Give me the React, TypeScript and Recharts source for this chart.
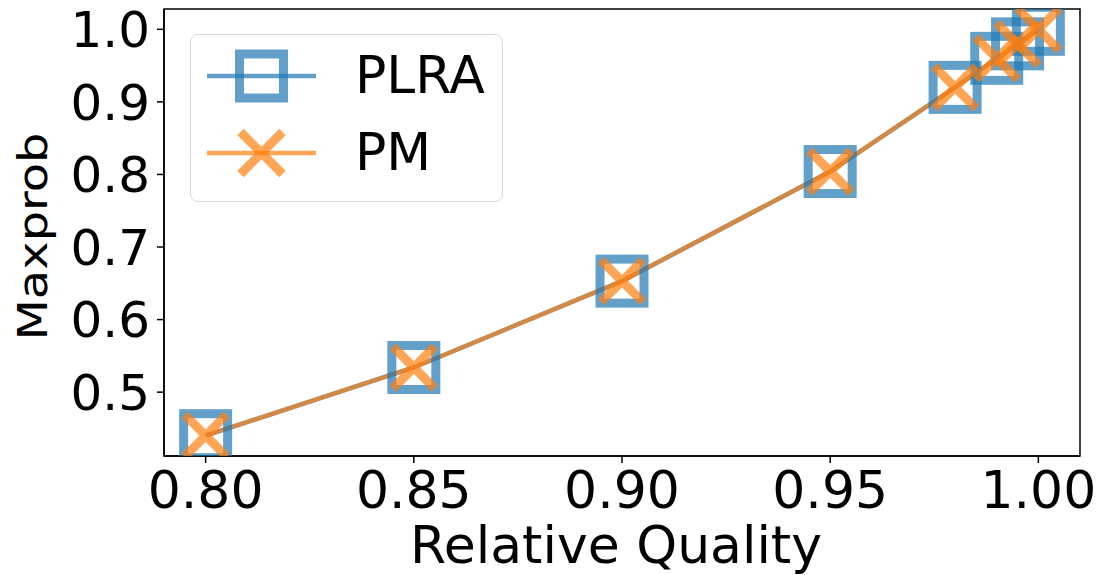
import React from 'react';
import { LineChart, Line, XAxis, YAxis, Legend, ReferenceArea } from 'recharts';

const FONT = "'DejaVu Sans', 'Liberation Sans', sans-serif";

const qualities = [0.8, 0.85, 0.9, 0.95, 0.98, 0.99, 0.995, 1.0];
const plraValues = [0.44, 0.534, 0.653, 0.804, 0.92, 0.96, 0.98, 1.0];
const pmValues = [0.44, 0.534, 0.653, 0.804, 0.92, 0.96, 0.98, 1.0];
const xTicks = [0.8, 0.85, 0.9, 0.95, 1.0];
const yTicks = [0.5, 0.6, 0.7, 0.8, 0.9, 1.0];
const seriesNames = ['PLRA', 'PM'];

const data = qualities.map((q, i) => ({ x: q, plra: plraValues[i], pm: pmValues[i] }));

const BLUE = '#1f77b4';
const ORANGE = '#ff7f0e';
const ALPHA = 0.7;
const SQ = 22;
const XH = 21;
const MW = 9;

const SquareDot = (props: any) => {
  const { cx, cy, index } = props;
  if (cx == null || cy == null) return <g key={`sq-${index}`} />;
  return (
    <rect
      key={`sq-${index}`}
      x={cx - SQ}
      y={cy - SQ}
      width={SQ * 2}
      height={SQ * 2}
      fill="none"
      stroke={BLUE}
      strokeOpacity={ALPHA}
      strokeWidth={MW}
    />
  );
};

const CrossDot = (props: any) => {
  const { cx, cy, index } = props;
  if (cx == null || cy == null) return <g key={`x-${index}`} />;
  return (
    <path
      key={`x-${index}`}
      d={`M${cx - XH},${cy - XH}L${cx + XH},${cy + XH}M${cx - XH},${cy + XH}L${cx + XH},${cy - XH}`}
      fill="none"
      stroke={ORANGE}
      strokeOpacity={ALPHA}
      strokeWidth={MW}
      strokeLinecap="butt"
    />
  );
};

const renderLegend = (props: any) => {
  const payload = props.payload || [];
  return (
    <div
      style={{
        width: 313,
        height: 168,
        boxSizing: 'border-box',
        border: '1.5px solid #d6d6d6',
        borderRadius: 8,
        background: 'rgba(255,255,255,0.8)',
      }}
    >
      <svg width={310} height={165} style={{ display: 'block' }}>
        {payload.map((entry: any, i: number) => {
          const y = 41 + i * 77;
          const cx = 70.5;
          const isSquare = entry.value === seriesNames[0];
          const color = isSquare ? BLUE : ORANGE;
          return (
            <g key={`lg-${i}`}>
              <line x1={16} x2={125} y1={y} y2={y} stroke={color} strokeOpacity={ALPHA} strokeWidth={4.5} />
              {isSquare ? (
                <rect x={cx - SQ} y={y - SQ} width={SQ * 2} height={SQ * 2} fill="none" stroke={color} strokeOpacity={ALPHA} strokeWidth={MW} />
              ) : (
                <path
                  d={`M${cx - XH},${y - XH}L${cx + XH},${y + XH}M${cx - XH},${y + XH}L${cx + XH},${y - XH}`}
                  fill="none"
                  stroke={color}
                  strokeOpacity={ALPHA}
                  strokeWidth={MW}
                />
              )}
              <text x={164} y={y + 17} fontSize={52} fontFamily={FONT} fill="#000">
                {entry.value}
              </text>
            </g>
          );
        })}
      </svg>
    </div>
  );
};

const XLabel = (props: any) => {
  const vb = props.viewBox || { x: 164, y: 456, width: 916, height: 119 };
  return (
    <text x={vb.x + vb.width / 2 - 6} y={563} textAnchor="middle" fontSize={52} fontFamily={FONT} fill="#000">
      Relative Quality
    </text>
  );
};

const YLabel = (props: any) => {
  const vb = props.viewBox || { x: 0, y: 9, width: 164, height: 447 };
  const cy = vb.y + vb.height / 2 + 4;
  return (
    <text
      x={0}
      y={0}
      transform={`translate(47, ${cy}) rotate(-90) scale(1.17, 1)`}
      textAnchor="middle"
      fontSize={41}
      fontFamily={FONT}
      fill="#000"
    >
      Maxprob
    </text>
  );
};

export default function App() {
  return (
    <div style={{ position: 'absolute', left: 0, top: 0, width: 1096, height: 575, background: '#fff' }}>
      <LineChart width={1096} height={575} data={data} margin={{ top: 9, right: 16, bottom: 0, left: 0 }}>
        <XAxis
          type="number"
          dataKey="x"
          domain={[0.79, 1.01]}
          ticks={xTicks}
          interval={0}
          allowDataOverflow
          tickFormatter={(v: number) => v.toFixed(2)}
          height={119}
          tickSize={7}
          tickMargin={8}
          stroke="#000"
          axisLine={{ stroke: '#000', strokeWidth: 1.5 }}
          tickLine={{ stroke: '#000', strokeWidth: 1.5 }}
          tick={{ fontSize: 52, fill: '#000', fontFamily: FONT }}
          label={<XLabel />}
        />
        <YAxis
          type="number"
          domain={[0.412, 1.028]}
          ticks={yTicks}
          interval={0}
          allowDataOverflow
          tickFormatter={(v: number) => v.toFixed(1)}
          width={164}
          tickSize={7}
          tickMargin={7}
          stroke="#000"
          axisLine={{ stroke: '#000', strokeWidth: 1.5 }}
          tickLine={{ stroke: '#000', strokeWidth: 1.5 }}
          tick={{ fontSize: 50, fill: '#000', fontFamily: FONT }}
          label={<YLabel />}
        />
        <Line
          type="linear"
          dataKey="plra"
          name={seriesNames[0]}
          stroke={BLUE}
          strokeOpacity={ALPHA}
          strokeWidth={4.5}
          dot={SquareDot}
          activeDot={false}
          isAnimationActive={false}
        />
        <Line
          type="linear"
          dataKey="pm"
          name={seriesNames[1]}
          stroke={ORANGE}
          strokeOpacity={ALPHA}
          strokeWidth={4.5}
          dot={CrossDot}
          activeDot={false}
          isAnimationActive={false}
        />
        <ReferenceArea
          x1={0.79}
          x2={1.01}
          y1={0.412}
          y2={1.028}
          fill="none"
          fillOpacity={0}
          stroke="#000"
          strokeWidth={1.5}
          strokeOpacity={1}
          ifOverflow="visible"
        />
        <Legend
          layout="vertical"
          align="center"
          verticalAlign="middle"
          content={renderLegend}
          wrapperStyle={{ position: 'absolute', left: 190, top: 34, width: 313, height: 168, right: 'auto', bottom: 'auto' }}
        />
      </LineChart>
    </div>
  );
}
